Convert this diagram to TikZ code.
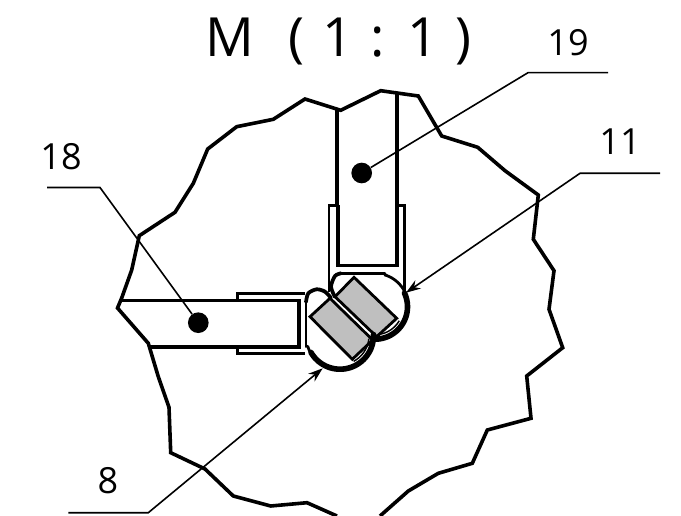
\documentclass[tikz,border=0pt]{standalone}
\usepackage{fontspec}
\setmainfont{Open Sans}
\newfontfamily\titlefont[WordSpace=1.25]{Open Sans}
\usetikzlibrary{arrows.meta}
\tikzset{
  outline/.style={line width=2.7pt,line join=miter},
  armline/.style={line width=2.7pt,line join=miter},
  clipline/.style={line width=2.1pt,line join=miter},
  headrim/.style={line width=4.2pt,line cap=round},
  headlobe/.style={line width=2.8pt,line cap=round},
  headthin/.style={line width=2.1pt,line cap=round},
  headinner/.style={line width=1.1pt},
  seal/.style={draw,fill=black!25,line width=2.1pt,line join=miter},
  leader/.style={line width=1.2pt},
  dotmark/.style={circle,fill=black,inner sep=0pt,minimum size=15.5pt},
  numlabel/.style={font=\fontsize{27}{27}\selectfont,inner sep=0pt},
  arrowtip/.style={-{Stealth[length=11pt,width=7.5pt]}}
}
\begin{document}
\begin{tikzpicture}[x=0.75pt,y=-0.75pt]
\useasboundingbox (0,0) rectangle (681,516);
% the break line around the detail
\draw[outline] (337,516) -- (307,502.7) -- (270.7,506) -- (233.3,496) -- (205,469) -- (170.7,452.7)
  -- (169,407.3) -- (158.3,376.7) -- (148.3,343.3) -- (117.5,308) -- (121.7,298) -- (131.7,270)
  -- (139.3,235.7) -- (175,212.3) -- (193.3,183.3) -- (207.7,149) -- (236.7,126.7) -- (273.3,119.3)
  -- (305,99) -- (340.7,110.3) -- (380.7,90.7) -- (418.3,96) -- (441.7,136) -- (477.7,147.3)
  -- (505,170.7) -- (538.3,195) -- (533.3,239.3) -- (554,270.7) -- (549,309.3) -- (562.7,347.7)
  -- (526.7,376) -- (531,418.3) -- (487.3,430) -- (472.3,463.3) -- (438.3,473.3) -- (408.3,491)
  -- (380,516);
% the two arms
\draw[armline] (121.7,300.7) -- (299,300.7) -- (299,346.7) -- (148.3,346.7);
\draw[armline] (336.7,110.3) -- (336.7,205) (396.7,93.3) -- (396.7,265.7) -- (338,265.7) -- (338,205);
% the clips on the arms
\draw[clipline] (305,293.3) -- (237.3,293.3) -- (237.3,300.7);
\draw[clipline] (305,353.3) -- (237.3,353.3) -- (237.3,346.7);
\draw[clipline] (336.7,205.7) -- (329,205.7) -- (329,292);
\draw[clipline] (396.7,205.7) -- (404.3,205.7) -- (404.3,292);
% the grey seals
\draw[seal] (354,277.3) -- (396.7,318.3) -- (376.7,336.7) -- (335,296.7) -- cycle;
\draw[seal] (330,298.3) -- (372.7,340) -- (352.3,359.3) -- (310,316.7) -- cycle;
% the upper head
\draw[headlobe] plot[smooth] coordinates {(335,297) (331,286.7) (335,276) (341,273.3)};
\draw[headthin] (341,273.3) -- (385,273.3);
\draw[headthin] plot[domain=-73:-25,samples=12] ({375+33.3*cos(\x)},{306.7+33.3*sin(\x)});
\draw[headrim] plot[domain=-25:88,samples=30] ({375+32.5*cos(\x)},{306.7+32.5*sin(\x)});
\draw[headinner] plot[domain=30:85,samples=15] ({375+28*cos(\x)},{306.7+28*sin(\x)});
% the lower head
\draw[headthin] (306,300) -- (306,346.7);
\draw[headlobe] plot[smooth] coordinates {(306,302) (308.3,293.3) (316.7,289.3) (325,291.7) (331,298)};
\draw[headthin] plot[domain=150:162,samples=5] ({340+34*cos(\x)},{335.7+34*sin(\x)});
\draw[headrim] plot[domain=-2:150,samples=36] ({340+33.5*cos(\x)},{335.7+33.5*sin(\x)});
\draw[headinner] plot[domain=6:62,samples=15] ({340+29*cos(\x)},{335.7+29*sin(\x)});
% the marks and the leaders
\node[dotmark] (dot19) at (361.7,173) {};
\node[dotmark] (dot18) at (198.3,322.7) {};
\coordinate (knee19) at (528,72.7);
\coordinate (end19) at (608,72.7);
\coordinate (knee18) at (100,187.5);
\coordinate (end18) at (47,187.5);
\coordinate (knee11) at (580,173.3);
\coordinate (end11) at (660,173.3);
\coordinate (tip11) at (406,292.7);
\coordinate (knee8) at (148.3,512.7);
\coordinate (end8) at (68.3,512.7);
\coordinate (tip8) at (322.7,368.3);
\draw[leader] (dot19) -- (knee19) -- (end19);
\draw[leader] (dot18) -- (knee18) -- (end18);
\draw[leader,arrowtip] (end11) -- (knee11) -- (tip11);
\draw[leader,arrowtip] (end8) -- (knee8) -- (tip8);
% the labels
\node[font=\titlefont\fontsize{40.5}{40.5}\selectfont,inner sep=0pt] (title) at (338.5,41.5) {M\ \ ( 1 : 1 )};
\node[numlabel] (lab19) at (568,43) {19};
\node[numlabel] (lab18) at (61,157) {18};
\node[numlabel] (lab11) at (620,142) {11};
\node[numlabel] (lab8) at (108,481) {8};
\end{tikzpicture}
\end{document}
